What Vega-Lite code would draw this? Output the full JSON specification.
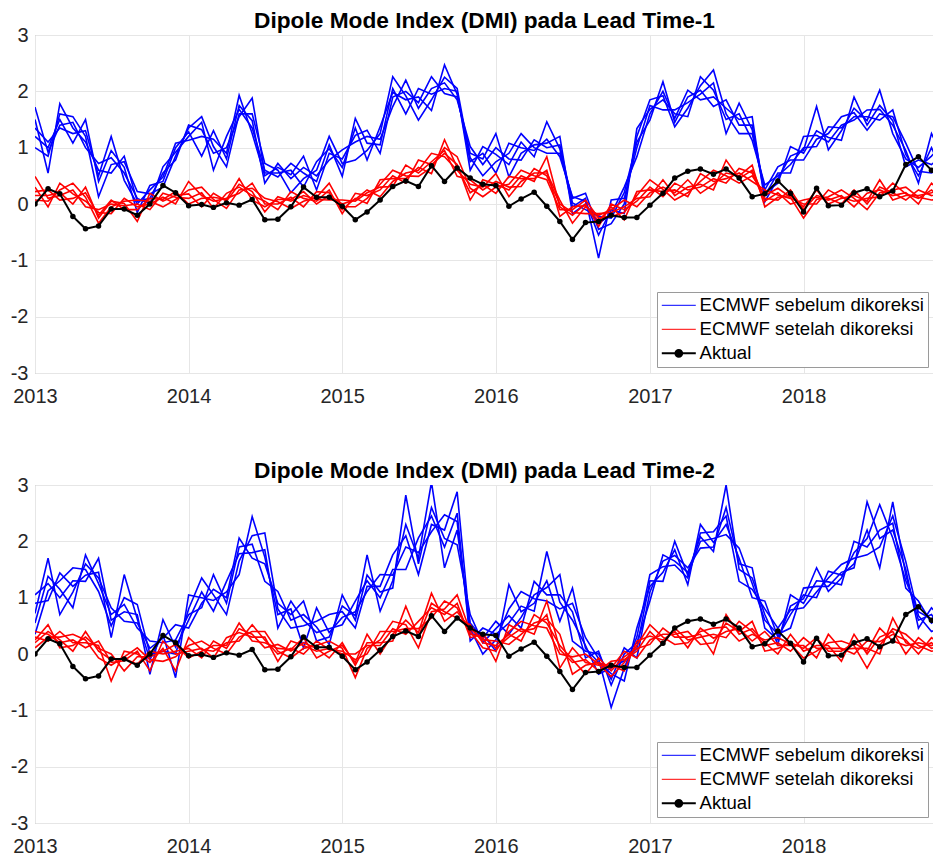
{
"$schema": "https://vega.github.io/schema/vega-lite/v6.json",
"padding": {"left": 9, "top": 9, "right": 0, "bottom": 5},
"data": {"values": [
{"t":"2013-01","a":0,"b1":1.72,"b2":1.5,"b3":1.35,"b4":1.2,"b5":1.0,"r1":0.49,"r2":0.3,"r3":0.22,"r4":0.15,"r5":0.07,"c1":1.05,"c2":0.9,"c3":0.72,"c4":0.55,"c5":0.35,"s1":0.4,"s2":0.3,"s3":0.25,"s4":0.2,"s5":0.11},
{"t":"2013-02","a":0.27,"b1":0.92,"b2":0.55,"b3":1.1,"b4":1.0,"b5":0.85,"r1":0.1,"r2":-0.05,"r3":0.25,"r4":0.15,"r5":0.05,"c1":1.25,"c2":0.95,"c3":1.7,"c4":1.38,"c5":1.12,"s1":0.35,"s2":0.23,"s3":0.52,"s4":0.4,"s5":0.3},
{"t":"2013-03","a":0.18,"b1":1.4,"b2":1.78,"b3":1.35,"b4":1.5,"b5":1.6,"r1":0.15,"r2":0.37,"r3":0.07,"r4":0.2,"r5":0.25,"c1":1.0,"c2":1.44,"c3":0.7,"c4":1.15,"c5":1.3,"s1":0.2,"s2":0.4,"s3":0.11,"s4":0.25,"s5":0.3},
{"t":"2013-04","a":-0.22,"b1":1.45,"b2":1.35,"b3":1.25,"b4":1.08,"b5":1.55,"r1":0.25,"r2":0.18,"r3":0.1,"r4":0,"r5":0.37,"c1":1.3,"c2":1.2,"c3":1.1,"c4":0.82,"c5":1.53,"s1":0.25,"s2":0.2,"s3":0.15,"s4":0.05,"s5":0.35},
{"t":"2013-05","a":-0.44,"b1":1.0,"b2":1.1,"b3":1.3,"b4":1.5,"b5":1.2,"r1":-0.05,"r2":0.05,"r3":0.2,"r4":0.3,"r5":0.12,"c1":1.29,"c2":1.4,"c3":1.6,"c4":1.76,"c5":1.5,"s1":0.11,"s2":0.2,"s3":0.3,"s4":0.4,"s5":0.25},
{"t":"2013-06","a":-0.39,"b1":0.72,"b2":0.6,"b3":0.5,"b4":0.4,"b5":0.13,"r1":-0.1,"r2":-0.15,"r3":-0.2,"r4":-0.25,"r5":-0.34,"c1":1.7,"c2":1.45,"c3":1.35,"c4":1.25,"c5":1.11,"s1":0.23,"s2":0.15,"s3":0.1,"s4":0.05,"s5":-0.07},
{"t":"2013-07","a":-0.09,"b1":0.82,"b2":0.55,"b3":1.2,"b4":0.95,"b5":0.7,"r1":0,"r2":-0.17,"r3":0.07,"r4":0.05,"r5":-0.05,"c1":0.6,"c2":0.29,"c3":0.82,"c4":0.7,"c5":0.5,"s1":-0.15,"s2":-0.48,"s3":0,"s4":-0.1,"s5":-0.2},
{"t":"2013-08","a":-0.09,"b1":0.55,"b2":0.85,"b3":0.42,"b4":0.65,"b5":0.75,"r1":-0.03,"r2":0.1,"r3":-0.1,"r4":0.01,"r5":0.05,"c1":0.75,"c2":1.41,"c3":0.58,"c4":0.88,"c5":1.0,"s1":-0.12,"s2":0.05,"s3":-0.3,"s4":-0.08,"s5":-0.05},
{"t":"2013-09","a":-0.2,"b1":0.1,"b2":0.05,"b3":0,"b4":-0.15,"b5":0.22,"r1":0,"r2":-0.05,"r3":-0.1,"r4":-0.31,"r5":0.07,"c1":0.7,"c2":0.62,"c3":0.55,"c4":0.46,"c5":0.88,"s1":0.05,"s2":0,"s3":-0.05,"s4":-0.18,"s5":0.11},
{"t":"2013-10","a":0,"b1":0,"b2":0.1,"b3":0.25,"b4":0.33,"b5":0.18,"r1":-0.1,"r2":0,"r3":0.1,"r4":0.19,"r5":0.05,"c1":-0.36,"c2":-0.1,"c3":0.1,"c4":0.23,"c5":0,"s1":-0.3,"s2":-0.15,"s3":-0.05,"s4":0.05,"s5":-0.1},
{"t":"2013-11","a":0.33,"b1":0.66,"b2":0.55,"b3":0.48,"b4":0.4,"b5":0.3,"r1":0.19,"r2":0.12,"r3":0.08,"r4":0.05,"r5":-0.05,"c1":0.61,"c2":0.35,"c3":0.28,"c4":0.2,"c5":0.05,"s1":0.23,"s2":0.1,"s3":0.05,"s4":0,"s5":-0.13},
{"t":"2013-12","a":0.2,"b1":0.92,"b2":0.78,"b3":1.08,"b4":1.0,"b5":0.85,"r1":0.12,"r2":0,"r3":0.22,"r4":0.15,"r5":0.08,"c1":0.12,"c2":-0.42,"c3":0.52,"c4":0.25,"c5":0,"s1":0,"s2":-0.3,"s3":0.17,"s4":0.05,"s5":-0.05},
{"t":"2014-01","a":-0.03,"b1":1.2,"b2":1.4,"b3":1.13,"b4":1.28,"b5":1.35,"r1":0.1,"r2":0.4,"r3":0,"r4":0.18,"r5":0.25,"c1":0.6,"c2":1.05,"c3":0.46,"c4":0.7,"c5":0.8,"s1":0.05,"s2":0.29,"s3":-0.07,"s4":0.1,"s5":0.15},
{"t":"2014-02","a":-0.01,"b1":1.45,"b2":1.32,"b3":1.2,"b4":0.85,"b5":1.55,"r1":0.2,"r2":0.15,"r3":0.1,"r4":-0.05,"r5":0.3,"c1":1.1,"c2":1.0,"c3":0.9,"c4":0.82,"c5":1.35,"s1":0.1,"s2":0.08,"s3":0.05,"s4":-0.07,"s5":0.23},
{"t":"2014-03","a":-0.06,"b1":0.6,"b2":0.9,"b3":1.15,"b4":1.3,"b5":1.02,"r1":-0.08,"r2":0.05,"r3":0.12,"r4":0.19,"r5":0.08,"c1":0.76,"c2":0.95,"c3":1.15,"c4":1.41,"c5":1.05,"s1":-0.07,"s2":0.05,"s3":0.15,"s4":0.23,"s5":0.1},
{"t":"2014-04","a":0.02,"b1":1.2,"b2":1.0,"b3":0.9,"b4":0.8,"b5":0.66,"r1":0.19,"r2":0.1,"r3":0.08,"r4":0.05,"r5":-0.08,"c1":1.29,"c2":1.1,"c3":1.0,"c4":0.9,"c5":0.7,"s1":0.29,"s2":0.2,"s3":0.15,"s4":0.1,"s5":0},
{"t":"2014-05","a":-0.02,"b1":1.68,"b2":1.55,"b3":1.93,"b4":1.75,"b5":1.6,"r1":0.3,"r2":0.19,"r3":0.45,"r4":0.35,"r5":0.25,"c1":1.78,"c2":1.41,"c3":2.06,"c4":1.9,"c5":1.65,"s1":0.38,"s2":0.23,"s3":0.55,"s4":0.45,"s5":0.3},
{"t":"2014-06","a":0.08,"b1":1.35,"b2":1.88,"b3":1.25,"b4":1.48,"b5":1.6,"r1":0.15,"r2":0.37,"r3":0.07,"r4":0.22,"r5":0.28,"c1":1.8,"c2":2.44,"c3":1.7,"c4":1.95,"c5":2.1,"s1":0.3,"s2":0.52,"s3":0.23,"s4":0.35,"s5":0.4},
{"t":"2014-07","a":-0.28,"b1":0.6,"b2":0.55,"b3":0.5,"b4":0.37,"b5":0.72,"r1":0.05,"r2":0,"r3":-0.05,"r4":-0.14,"r5":0.1,"c1":1.85,"c2":1.72,"c3":1.6,"c4":1.29,"c5":2.15,"s1":0.3,"s2":0.25,"s3":0.2,"s4":0.11,"s5":0.4},
{"t":"2014-08","a":-0.27,"b1":0.48,"b2":0.55,"b3":0.65,"b4":0.72,"b5":0.6,"r1":-0.1,"r2":0,"r3":0.08,"r4":0.13,"r5":0.04,"c1":0.46,"c2":0.7,"c3":0.9,"c4":1.11,"c5":0.8,"s1":-0.13,"s2":0,"s3":0.1,"s4":0.17,"s5":0.05},
{"t":"2014-09","a":-0.05,"b1":0.72,"b2":0.6,"b3":0.52,"b4":0.45,"b5":0.2,"r1":0.22,"r2":0.12,"r3":0.08,"r4":0.05,"r5":-0.08,"c1":0.94,"c2":0.8,"c3":0.7,"c4":0.6,"c5":0.46,"s1":0.23,"s2":0.1,"s3":0.08,"s4":0.05,"s5":-0.07},
{"t":"2014-10","a":0.3,"b1":0.55,"b2":0.3,"b3":0.85,"b4":0.65,"b5":0.45,"r1":0.1,"r2":-0.05,"r3":0.22,"r4":0.15,"r5":0.05,"c1":0.6,"c2":0.11,"c3":0.94,"c4":0.7,"c5":0.5,"s1":0.15,"s2":0,"s3":0.29,"s4":0.2,"s5":0.1},
{"t":"2014-11","a":0.12,"b1":0.4,"b2":0.75,"b3":0.25,"b4":0.5,"b5":0.6,"r1":0.05,"r2":0.22,"r3":0,"r4":0.08,"r5":0.12,"c1":0.38,"c2":0.82,"c3":0.23,"c4":0.48,"c5":0.58,"s1":0.05,"s2":0.23,"s3":-0.07,"s4":0.1,"s5":0.15},
{"t":"2014-12","a":0.12,"b1":1.05,"b2":0.98,"b3":0.9,"b4":0.78,"b5":1.2,"r1":0.25,"r2":0.2,"r3":0.15,"r4":0.07,"r5":0.37,"c1":0.45,"c2":0.38,"c3":0.3,"c4":0.17,"c5":0.7,"s1":0.1,"s2":0.08,"s3":0.05,"s4":-0.07,"s5":0.23},
{"t":"2015-01","a":-0.04,"b1":0.49,"b2":0.65,"b3":0.8,"b4":0.96,"b5":0.72,"r1":-0.17,"r2":-0.1,"r3":0,"r4":0.07,"r5":-0.05,"c1":0.52,"c2":0.65,"c3":0.85,"c4":1.05,"c5":0.75,"s1":0,"s2":0.05,"s3":0.15,"s4":0.2,"s5":0.1},
{"t":"2015-02","a":-0.28,"b1":1.52,"b2":1.35,"b3":1.22,"b4":1.1,"b5":0.78,"r1":0.19,"r2":0.1,"r3":0.08,"r4":0.05,"r5":-0.05,"c1":0.94,"c2":0.75,"c3":0.68,"c4":0.6,"c5":0.46,"s1":0,"s2":-0.1,"s3":-0.15,"s4":-0.2,"s5":-0.42},
{"t":"2015-03","a":-0.14,"b1":1.08,"b2":0.78,"b3":1.31,"b4":1.2,"b5":0.95,"r1":0.15,"r2":0.01,"r3":0.25,"r4":0.2,"r5":0.1,"c1":1.3,"c2":1.11,"c3":1.76,"c4":1.4,"c5":1.2,"s1":0.15,"s2":0,"s3":0.35,"s4":0.2,"s5":0.1},
{"t":"2015-04","a":0.07,"b1":1.05,"b2":1.37,"b3":0.9,"b4":1.15,"b5":1.25,"r1":0.25,"r2":0.43,"r3":0.13,"r4":0.3,"r5":0.35,"c1":1.0,"c2":1.41,"c3":0.76,"c4":1.1,"c5":1.2,"s1":0.15,"s2":0.4,"s3":0,"s4":0.2,"s5":0.25},
{"t":"2015-05","a":0.31,"b1":2.05,"b2":1.98,"b3":1.9,"b4":1.73,"b5":2.26,"r1":0.5,"r2":0.45,"r3":0.4,"r4":0.31,"r5":0.6,"c1":1.5,"c2":1.4,"c3":1.3,"c4":1.17,"c5":1.76,"s1":0.45,"s2":0.4,"s3":0.35,"s4":0.23,"s5":0.58},
{"t":"2015-06","a":0.41,"b1":1.6,"b2":1.85,"b3":2.0,"b4":2.2,"b5":1.92,"r1":0.37,"r2":0.45,"r3":0.55,"r4":0.69,"r5":0.5,"c1":1.5,"c2":1.9,"c3":2.3,"c4":2.82,"c5":2.1,"s1":0.35,"s2":0.45,"s3":0.6,"s4":0.85,"s5":0.52},
{"t":"2015-07","a":0.31,"b1":2.05,"b2":1.9,"b3":1.8,"b4":1.7,"b5":1.49,"r1":0.78,"r2":0.65,"r3":0.6,"r4":0.55,"r5":0.49,"c1":2.06,"c2":1.8,"c3":1.7,"c4":1.6,"c5":1.41,"s1":0.58,"s2":0.45,"s3":0.38,"s4":0.3,"s5":0.11},
{"t":"2015-08","a":0.68,"b1":1.95,"b2":1.66,"b3":2.26,"b4":2.05,"b5":1.85,"r1":0.7,"r2":0.54,"r3":0.9,"r4":0.75,"r5":0.65,"c1":2.45,"c2":2.17,"c3":3.05,"c4":2.6,"c5":2.3,"s1":0.82,"s2":0.64,"s3":1.08,"s4":0.9,"s5":0.75},
{"t":"2015-09","a":0.4,"b1":2.05,"b2":2.47,"b3":1.96,"b4":2.15,"b5":2.25,"r1":0.9,"r2":1.14,"r3":0.84,"r4":0.95,"r5":1.0,"c1":1.9,"c2":2.47,"c3":1.53,"c4":2.05,"c5":2.2,"s1":0.7,"s2":0.94,"s3":0.58,"s4":0.75,"s5":0.8},
{"t":"2015-10","a":0.64,"b1":2.0,"b2":1.95,"b3":1.9,"b4":1.85,"b5":2.05,"r1":0.7,"r2":0.65,"r3":0.6,"r4":0.49,"r5":0.84,"c1":2.5,"c2":2.35,"c3":2.2,"c4":1.94,"c5":2.88,"s1":0.9,"s2":0.82,"s3":0.75,"s4":0.64,"s5":1.05},
{"t":"2015-11","a":0.46,"b1":0.6,"b2":0.75,"b3":0.9,"b4":1.02,"b5":0.82,"r1":0.07,"r2":0.2,"r3":0.35,"r4":0.43,"r5":0.28,"c1":0.23,"c2":0.35,"c3":0.55,"c4":0.7,"c5":0.45,"s1":0.29,"s2":0.35,"s3":0.45,"s4":0.52,"s5":0.4},
{"t":"2015-12","a":0.35,"b1":1.02,"b2":0.9,"b3":0.8,"b4":0.7,"b5":0.5,"r1":0.43,"r2":0.35,"r3":0.3,"r4":0.25,"r5":0.13,"c1":0.46,"c2":0.35,"c3":0.28,"c4":0.2,"c5":0,"s1":0.35,"s2":0.3,"s3":0.25,"s4":0.2,"s5":0.11},
{"t":"2016-01","a":0.33,"b1":0.88,"b2":0.55,"b3":1.25,"b4":1.0,"b5":0.75,"r1":0.35,"r2":0.19,"r3":0.54,"r4":0.4,"r5":0.3,"c1":0.35,"c2":0.05,"c3":0.58,"c4":0.45,"c5":0.25,"s1":0.1,"s2":-0.13,"s3":0.23,"s4":0.15,"s5":0.05},
{"t":"2016-02","a":-0.04,"b1":0.7,"b2":1.08,"b3":0.48,"b4":0.8,"b5":0.9,"r1":0.25,"r2":0.49,"r3":0.13,"r4":0.3,"r5":0.35,"c1":0.55,"c2":1.23,"c3":0.35,"c4":0.68,"c5":0.8,"s1":0.3,"s2":0.52,"s3":0.17,"s4":0.35,"s5":0.4},
{"t":"2016-03","a":0.09,"b1":1.1,"b2":1.0,"b3":0.9,"b4":0.78,"b5":1.25,"r1":0.5,"r2":0.45,"r3":0.4,"r4":0.31,"r5":0.6,"c1":0.85,"c2":0.75,"c3":0.65,"c4":0.46,"c5":1.11,"s1":0.45,"s2":0.4,"s3":0.35,"s4":0.23,"s5":0.58},
{"t":"2016-04","a":0.21,"b1":0.84,"b2":0.95,"b3":1.05,"b4":1.14,"b5":1.0,"r1":0.4,"r2":0.45,"r3":0.55,"r4":0.63,"r5":0.5,"c1":0.76,"c2":0.9,"c3":1.05,"c4":1.29,"c5":0.98,"s1":0.35,"s2":0.45,"s3":0.55,"s4":0.7,"s5":0.5},
{"t":"2016-05","a":-0.04,"b1":1.46,"b2":1.15,"b3":1.08,"b4":1.0,"b5":0.9,"r1":0.84,"r2":0.6,"r3":0.55,"r4":0.5,"r5":0.43,"c1":1.82,"c2":1.3,"c3":1.18,"c4":1.05,"c5":0.94,"s1":0.94,"s2":0.7,"s3":0.62,"s4":0.55,"s5":0.46},
{"t":"2016-06","a":-0.31,"b1":0.98,"b2":0.84,"b3":1.2,"b4":1.05,"b5":0.9,"r1":-0.05,"r2":-0.22,"r3":0.07,"r4":0,"r5":-0.1,"c1":0.92,"c2":0.58,"c3":1.41,"c4":1.05,"c5":0.8,"s1":0.08,"s2":-0.25,"s3":0.35,"s4":0.15,"s5":0},
{"t":"2016-07","a":-0.63,"b1":-0.05,"b2":0.13,"b3":-0.17,"b4":0.02,"b5":0.1,"r1":-0.2,"r2":-0.05,"r3":-0.34,"r4":-0.15,"r5":-0.1,"c1":0.6,"c2":1.17,"c3":0.23,"c4":0.75,"c5":0.9,"s1":-0.15,"s2":0.11,"s3":-0.36,"s4":-0.1,"s5":-0.05},
{"t":"2016-08","a":-0.33,"b1":0.1,"b2":0.05,"b3":0,"b4":-0.1,"b5":0.19,"r1":0,"r2":-0.03,"r3":-0.05,"r4":-0.17,"r5":0.07,"c1":0.15,"c2":0.1,"c3":0.05,"c4":-0.07,"c5":0.29,"s1":-0.1,"s2":-0.15,"s3":-0.2,"s4":-0.36,"s5":0},
{"t":"2016-09","a":-0.31,"b1":-0.96,"b2":-0.55,"b3":-0.35,"b4":-0.22,"b5":-0.45,"r1":-0.4,"r2":-0.3,"r3":-0.2,"r4":-0.17,"r5":-0.25,"c1":-0.36,"c2":-0.15,"c3":0,"c4":0.05,"c5":-0.08,"s1":-0.3,"s2":-0.2,"s3":-0.15,"s4":-0.07,"s5":-0.18},
{"t":"2016-10","a":-0.2,"b1":0.07,"b2":-0.1,"b3":-0.18,"b4":-0.25,"b5":-0.35,"r1":0,"r2":-0.05,"r3":-0.1,"r4":-0.15,"r5":-0.22,"c1":-0.25,"c2":-0.35,"c3":-0.45,"c4":-0.55,"c5":-0.95,"s1":-0.13,"s2":-0.2,"s3":-0.25,"s4":-0.3,"s5":-0.4},
{"t":"2016-11","a":-0.24,"b1":0.1,"b2":-0.17,"b3":0.3,"b4":0.2,"b5":0,"r1":-0.1,"r2":-0.28,"r3":0.07,"r4":-0.05,"r5":-0.15,"c1":-0.12,"c2":-0.48,"c3":0.11,"c4":0,"c5":-0.25,"s1":-0.1,"s2":-0.3,"s3":0.05,"s4":-0.05,"s5":-0.15},
{"t":"2016-12","a":-0.24,"b1":1.0,"b2":1.34,"b3":0.84,"b4":1.1,"b5":1.2,"r1":0.05,"r2":0.22,"r3":-0.05,"r4":0.1,"r5":0.15,"c1":0.1,"c2":0.46,"c3":-0.07,"c4":0.2,"c5":0.3,"s1":0.05,"s2":0.23,"s3":-0.07,"s4":0.1,"s5":0.15},
{"t":"2017-01","a":-0.02,"b1":1.75,"b2":1.68,"b3":1.6,"b4":1.49,"b5":1.85,"r1":0.3,"r2":0.25,"r3":0.2,"r4":0.13,"r5":0.43,"c1":1.3,"c2":1.2,"c3":1.1,"c4":0.94,"c5":1.41,"s1":0.4,"s2":0.32,"s3":0.25,"s4":0.17,"s5":0.52},
{"t":"2017-02","a":0.19,"b1":1.67,"b2":1.85,"b3":2.0,"b4":2.17,"b5":1.92,"r1":0.13,"r2":0.22,"r3":0.3,"r4":0.43,"r5":0.26,"c1":1.29,"c2":1.45,"c3":1.65,"c4":1.76,"c5":1.55,"s1":0.17,"s2":0.25,"s3":0.35,"s4":0.46,"s5":0.3},
{"t":"2017-03","a":0.46,"b1":1.67,"b2":1.6,"b3":1.52,"b4":1.45,"b5":1.37,"r1":0.37,"r2":0.25,"r3":0.2,"r4":0.15,"r5":0.07,"c1":2.0,"c2":1.85,"c3":1.75,"c4":1.65,"c5":1.58,"s1":0.46,"s2":0.4,"s3":0.35,"s4":0.3,"s5":0.17},
{"t":"2017-04","a":0.58,"b1":1.8,"b2":1.55,"b3":2.02,"b4":1.9,"b5":1.7,"r1":0.25,"r2":0.13,"r3":0.43,"r4":0.3,"r5":0.2,"c1":1.4,"c2":1.23,"c3":1.53,"c4":1.45,"c5":1.35,"s1":0.25,"s2":0.11,"s3":0.4,"s4":0.3,"s5":0.2},
{"t":"2017-05","a":0.62,"b1":1.95,"b2":2.26,"b3":1.85,"b4":2.02,"b5":2.1,"r1":0.3,"r2":0.54,"r3":0.19,"r4":0.35,"r5":0.4,"c1":2.0,"c2":2.3,"c3":1.88,"c4":2.08,"c5":2.15,"s1":0.3,"s2":0.46,"s3":0.17,"s4":0.35,"s5":0.4},
{"t":"2017-06","a":0.53,"b1":2.15,"b2":2.02,"b3":1.9,"b4":1.73,"b5":2.38,"r1":0.45,"r2":0.4,"r3":0.35,"r4":0.25,"r5":0.6,"c1":2.05,"c2":1.98,"c3":1.9,"c4":1.82,"c5":2.17,"s1":0.35,"s2":0.28,"s3":0.2,"s4":0,"s5":0.46},
{"t":"2017-07","a":0.62,"b1":1.25,"b2":1.5,"b3":1.7,"b4":1.85,"b5":1.6,"r1":0.37,"r2":0.45,"r3":0.55,"r4":0.78,"r5":0.5,"c1":2.12,"c2":2.3,"c3":2.6,"c4":3.0,"c5":2.45,"s1":0.29,"s2":0.4,"s3":0.55,"s4":0.7,"s5":0.48},
{"t":"2017-08","a":0.46,"b1":1.79,"b2":1.6,"b3":1.5,"b4":1.4,"b5":1.25,"r1":0.63,"r2":0.55,"r3":0.5,"r4":0.45,"r5":0.37,"c1":1.88,"c2":1.7,"c3":1.6,"c4":1.5,"c5":1.29,"s1":0.58,"s2":0.45,"s3":0.4,"s4":0.35,"s5":0.23},
{"t":"2017-09","a":0.13,"b1":1.32,"b2":1.13,"b3":1.55,"b4":1.4,"b5":1.25,"r1":0.55,"r2":0.4,"r3":0.69,"r4":0.6,"r5":0.5,"c1":1.25,"c2":1.0,"c3":1.53,"c4":1.35,"c5":1.15,"s1":0.4,"s2":0.23,"s3":0.58,"s4":0.45,"s5":0.35},
{"t":"2017-10","a":0.18,"b1":0.15,"b2":0.34,"b3":0.04,"b4":0.2,"b5":0.25,"r1":0.05,"r2":0.25,"r3":-0.05,"r4":0.1,"r5":0.15,"c1":0.6,"c2":0.94,"c3":0.46,"c4":0.7,"c5":0.8,"s1":0.15,"s2":0.4,"s3":0.05,"s4":0.2,"s5":0.25},
{"t":"2017-11","a":0.41,"b1":0.55,"b2":0.5,"b3":0.45,"b4":0.37,"b5":0.66,"r1":0.2,"r2":0.16,"r3":0.12,"r4":0.07,"r5":0.28,"c1":0.35,"c2":0.3,"c3":0.25,"c4":0.17,"c5":0.46,"s1":0.2,"s2":0.15,"s3":0.1,"s4":0,"s5":0.29},
{"t":"2017-12","a":0.19,"b1":0.55,"b2":0.7,"b3":0.85,"b4":1.02,"b5":0.78,"r1":0,"r2":0.1,"r3":0.15,"r4":0.25,"r5":0.12,"c1":0.46,"c2":0.7,"c3":0.85,"c4":1.05,"c5":0.78,"s1":0.05,"s2":0.15,"s3":0.2,"s4":0.35,"s5":0.18},
{"t":"2018-01","a":-0.14,"b1":1.2,"b2":1.0,"b3":0.95,"b4":0.9,"b5":0.78,"r1":0.07,"r2":0,"r3":-0.05,"r4":-0.1,"r5":-0.25,"c1":1.17,"c2":1.05,"c3":0.98,"c4":0.9,"c5":0.82,"s1":0.29,"s2":0.15,"s3":0.1,"s4":0.05,"s5":-0.07},
{"t":"2018-02","a":0.28,"b1":1.22,"b2":1.02,"b3":1.73,"b4":1.3,"b5":1.15,"r1":0.12,"r2":0,"r3":0.25,"r4":0.15,"r5":0.08,"c1":1.2,"c2":1.0,"c3":1.53,"c4":1.3,"c5":1.1,"s1":0.1,"s2":-0.07,"s3":0.29,"s4":0.15,"s5":0.05},
{"t":"2018-03","a":-0.03,"b1":1.1,"b2":1.37,"b3":0.96,"b4":1.18,"b5":1.25,"r1":0.07,"r2":0.25,"r3":0,"r4":0.1,"r5":0.13,"c1":1.2,"c2":1.47,"c3":1.11,"c4":1.28,"c5":1.35,"s1":0.1,"s2":0.35,"s3":0.05,"s4":0.15,"s5":0.2},
{"t":"2018-04","a":-0.02,"b1":1.4,"b2":1.35,"b3":1.3,"b4":1.13,"b5":1.55,"r1":0.15,"r2":0.12,"r3":0.1,"r4":0,"r5":0.25,"c1":1.45,"c2":1.4,"c3":1.35,"c4":1.23,"c5":1.59,"s1":0.1,"s2":0.08,"s3":0.05,"s4":-0.13,"s5":0.23},
{"t":"2018-05","a":0.2,"b1":1.49,"b2":1.55,"b3":1.7,"b4":1.9,"b5":1.62,"r1":-0.05,"r2":0.05,"r3":0.15,"r4":0.25,"r5":0.1,"c1":1.53,"c2":1.6,"c3":1.8,"c4":2.0,"c5":1.7,"s1":0,"s2":0.1,"s3":0.2,"s4":0.35,"s5":0.15},
{"t":"2018-06","a":0.27,"b1":1.67,"b2":1.55,"b3":1.48,"b4":1.4,"b5":1.31,"r1":0.19,"r2":0.1,"r3":0.05,"r4":0,"r5":-0.1,"c1":2.7,"c2":2.2,"c3":2.05,"c4":1.9,"c5":1.76,"s1":0.23,"s2":0.1,"s3":0.05,"s4":0,"s5":-0.25},
{"t":"2018-07","a":0.13,"b1":1.68,"b2":1.49,"b3":2.02,"b4":1.75,"b5":1.6,"r1":0.25,"r2":0.13,"r3":0.43,"r4":0.3,"r5":0.2,"c1":2.05,"c2":1.53,"c3":2.65,"c4":2.2,"c5":1.9,"s1":0.22,"s2":0,"s3":0.46,"s4":0.3,"s5":0.15},
{"t":"2018-08","a":0.23,"b1":1.4,"b2":1.67,"b3":1.25,"b4":1.48,"b5":1.55,"r1":0.15,"r2":0.37,"r3":0.07,"r4":0.2,"r5":0.25,"c1":2.2,"c2":2.7,"c3":2.06,"c4":2.32,"c5":2.45,"s1":0.35,"s2":0.64,"s3":0.23,"s4":0.4,"s5":0.45},
{"t":"2018-09","a":0.7,"b1":0.95,"b2":0.88,"b3":0.8,"b4":0.66,"b5":1.08,"r1":0.2,"r2":0.18,"r3":0.15,"r4":0.07,"r5":0.3,"c1":1.5,"c2":1.4,"c3":1.3,"c4":1.17,"c5":1.64,"s1":0.25,"s2":0.2,"s3":0.15,"s4":0,"s5":0.35},
{"t":"2018-10","a":0.84,"b1":0.37,"b2":0.5,"b3":0.65,"b4":0.78,"b5":0.58,"r1":0,"r2":0.1,"r3":0.15,"r4":0.25,"r5":0.12,"c1":0.46,"c2":0.6,"c3":0.75,"c4":0.94,"c5":0.68,"s1":0,"s2":0.1,"s3":0.2,"s4":0.29,"s5":0.15},
{"t":"2018-11","a":0.6,"b1":1.25,"b2":1.0,"b3":0.85,"b4":0.7,"b5":0.55,"r1":0.37,"r2":0.25,"r3":0.2,"r4":0.15,"r5":0.07,"c1":0.82,"c2":0.7,"c3":0.62,"c4":0.55,"c5":0.4,"s1":0.29,"s2":0.2,"s3":0.15,"s4":0.1,"s5":0.05},
{"t":"2018-12","a":0.5,"b1":0.8,"b2":0.5,"b3":1.1,"b4":0.9,"b5":0.7,"r1":0.15,"r2":0.05,"r3":0.3,"r4":0.2,"r5":0.1,"c1":0.6,"c2":0.4,"c3":0.8,"c4":0.7,"c5":0.5,"s1":0.12,"s2":0.02,"s3":0.25,"s4":0.18,"s5":0.08}
]},
"spacing": 52,
"resolve": {"scale": {"color": "independent"}, "legend": {"color": "independent"}},
"vconcat": [
{
"title": "Dipole Mode Index (DMI) pada Lead Time-1",
"width": 899, "height": 338,
"encoding": {
"x": {"field": "t", "type": "temporal",
 "scale": {"type": "utc", "domain": [{"year": 2013, "month": 1, "date": 1, "utc": true}, {"year": 2018, "month": 11, "date": 7, "utc": true}]},
 "axis": {"title": null, "format": "%Y", "formatType": "utc", "values": [{"year": 2013, "utc": true}, {"year": 2014, "utc": true}, {"year": 2015, "utc": true}, {"year": 2016, "utc": true}, {"year": 2017, "utc": true}, {"year": 2018, "utc": true}]}}
},
"layer": [
{"transform": [{"fold": ["b1", "b2", "b3", "b4", "b5"], "as": ["m", "v"]}],
 "mark": {"type": "line", "strokeWidth": 1.6, "clip": true},
 "encoding": {
  "y": {"field": "v", "type": "quantitative", "scale": {"domain": [-3, 3], "nice": false}, "axis": {"title": null, "values": [-3, -2, -1, 0, 1, 2, 3], "labelExpr": "'' + datum.value"}},
  "detail": {"field": "m"},
  "color": {"datum": "ECMWF sebelum dikoreksi",
   "scale": {"domain": ["ECMWF sebelum dikoreksi", "ECMWF setelah dikoreksi", "Aktual"], "range": ["#0000ff", "#ff0000", "#000000"]},
   "legend": {"title": null, "orient": "bottom-right", "offset": 6, "padding": 4, "rowPadding": 5, "fillColor": "#ffffff", "strokeColor": "#9a9a9a", "labelFont": "Liberation Sans", "labelFontSize": 18.6, "labelColor": "#000000", "labelOffset": 20, "labelLimit": 400, "symbolSize": 289, "symbolType": "M-1,0L3,0", "symbolStrokeWidth": 1,
    "encode": {"symbols": {"update": {
     "shape": {"signal": "datum.value === 'Aktual' ? 'M-1,0L3,0M0.6,0A0.4,0.4,0,1,1,1.4,0A0.4,0.4,0,1,1,0.6,0Z' : 'M-1,0L3,0'"},
     "fill": {"signal": "datum.value === 'Aktual' ? '#000000' : 'transparent'"},
     "strokeWidth": {"signal": "datum.value === 'Aktual' ? 2 : 1"},
     "opacity": {"value": 1}}}}}}
 }},
{"transform": [{"fold": ["r1", "r2", "r3", "r4", "r5"], "as": ["m", "v"]}],
 "mark": {"type": "line", "strokeWidth": 1.6, "clip": true},
 "encoding": {"y": {"field": "v", "type": "quantitative"}, "detail": {"field": "m"}, "color": {"datum": "ECMWF setelah dikoreksi"}}},
{"mark": {"type": "line", "strokeWidth": 2, "clip": true, "point": {"filled": true, "size": 30}},
 "encoding": {"y": {"field": "a", "type": "quantitative"}, "color": {"datum": "Aktual"}}}
]
},
{
"title": "Dipole Mode Index (DMI) pada Lead Time-2",
"width": 899, "height": 338,
"encoding": {
"x": {"field": "t", "type": "temporal",
 "scale": {"type": "utc", "domain": [{"year": 2013, "month": 1, "date": 1, "utc": true}, {"year": 2018, "month": 11, "date": 7, "utc": true}]},
 "axis": {"title": null, "format": "%Y", "formatType": "utc", "values": [{"year": 2013, "utc": true}, {"year": 2014, "utc": true}, {"year": 2015, "utc": true}, {"year": 2016, "utc": true}, {"year": 2017, "utc": true}, {"year": 2018, "utc": true}]}}
},
"layer": [
{"transform": [{"fold": ["c1", "c2", "c3", "c4", "c5"], "as": ["m", "v"]}],
 "mark": {"type": "line", "strokeWidth": 1.6, "clip": true},
 "encoding": {
  "y": {"field": "v", "type": "quantitative", "scale": {"domain": [-3, 3], "nice": false}, "axis": {"title": null, "values": [-3, -2, -1, 0, 1, 2, 3], "labelExpr": "'' + datum.value"}},
  "detail": {"field": "m"},
  "color": {"datum": "ECMWF sebelum dikoreksi",
   "scale": {"domain": ["ECMWF sebelum dikoreksi", "ECMWF setelah dikoreksi", "Aktual"], "range": ["#0000ff", "#ff0000", "#000000"]},
   "legend": {"title": null, "orient": "bottom-right", "offset": 6, "padding": 4, "rowPadding": 5, "fillColor": "#ffffff", "strokeColor": "#9a9a9a", "labelFont": "Liberation Sans", "labelFontSize": 18.6, "labelColor": "#000000", "labelOffset": 20, "labelLimit": 400, "symbolSize": 289, "symbolType": "M-1,0L3,0", "symbolStrokeWidth": 1,
    "encode": {"symbols": {"update": {
     "shape": {"signal": "datum.value === 'Aktual' ? 'M-1,0L3,0M0.6,0A0.4,0.4,0,1,1,1.4,0A0.4,0.4,0,1,1,0.6,0Z' : 'M-1,0L3,0'"},
     "fill": {"signal": "datum.value === 'Aktual' ? '#000000' : 'transparent'"},
     "strokeWidth": {"signal": "datum.value === 'Aktual' ? 2 : 1"},
     "opacity": {"value": 1}}}}}}
 }},
{"transform": [{"fold": ["s1", "s2", "s3", "s4", "s5"], "as": ["m", "v"]}],
 "mark": {"type": "line", "strokeWidth": 1.6, "clip": true},
 "encoding": {"y": {"field": "v", "type": "quantitative"}, "detail": {"field": "m"}, "color": {"datum": "ECMWF setelah dikoreksi"}}},
{"mark": {"type": "line", "strokeWidth": 2, "clip": true, "point": {"filled": true, "size": 30}},
 "encoding": {"y": {"field": "a", "type": "quantitative"}, "color": {"datum": "Aktual"}}}
]
}
],
"config": {
 "font": "Liberation Sans",
 "background": "#ffffff",
 "view": {"stroke": "#a0a0a0", "strokeWidth": 1},
 "axis": {"labelFont": "Liberation Sans", "labelFontSize": 20, "labelColor": "#262626", "domain": false, "ticks": false, "tickSize": 0, "grid": true, "gridColor": "#e6e6e6", "gridWidth": 1, "labelFlush": false, "labelOverlap": false},
 "axisX": {"labelPadding": 13},
 "axisY": {"labelPadding": 7},
 "title": {"font": "Liberation Sans", "fontSize": 22.7, "fontWeight": "bold", "color": "#000000", "anchor": "middle", "baseline": "alphabetic", "offset": -8}
}
}
